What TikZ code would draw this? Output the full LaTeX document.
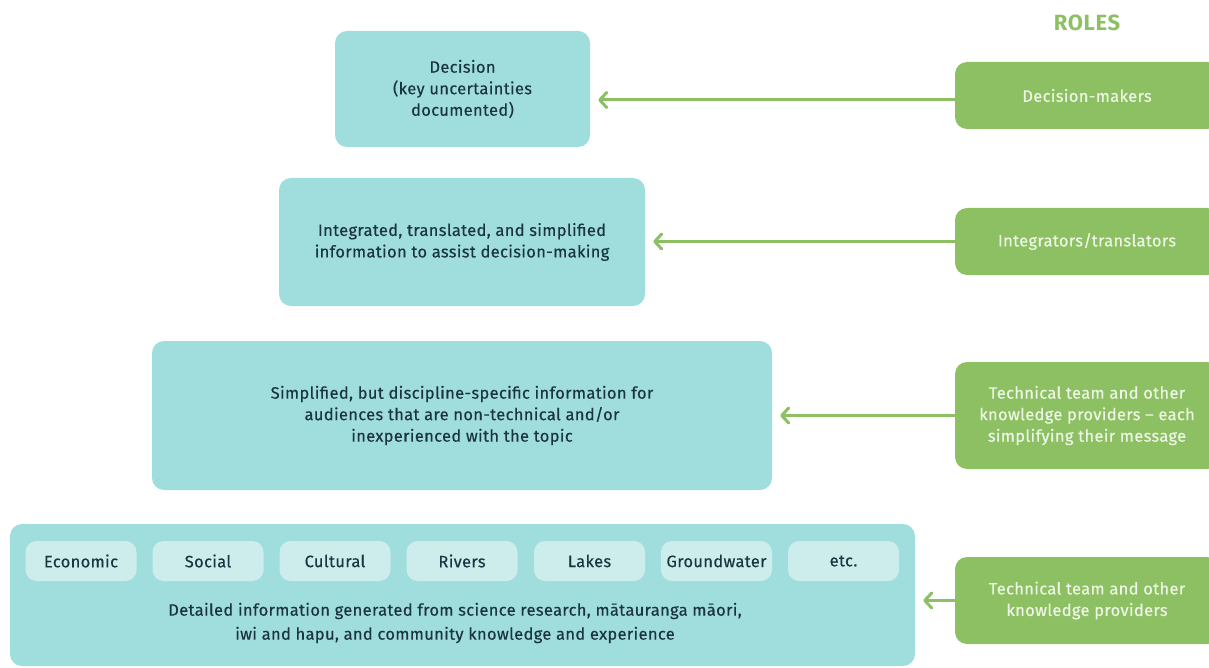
\documentclass[tikz,border=0pt]{standalone}
\usepackage{fontspec}
\setmainfont{Fira Sans}[LetterSpace=2, FakeBold=0.3]
\newfontfamily\rolesfont{Fira Sans}[LetterSpace=3]
\usetikzlibrary{arrows.meta}
\definecolor{teal1}{HTML}{A0DDDD}
\definecolor{teal2}{HTML}{CDEDEC}
\definecolor{grn}{HTML}{8CC063}
\definecolor{grntxt}{HTML}{EEF7E6}
\definecolor{txt}{HTML}{1B3540}
\tikzset{
  tbox/.style={fill=teal1, rounded corners=12pt, inner sep=0pt, align=center, text=txt, font=\fontsize{16.5}{21.5}\selectfont},
  sbox/.style={fill=teal2, rounded corners=11pt, minimum width=111pt, minimum height=40pt, inner sep=0pt, text=txt, font=\fontsize{16.5}{21.5}\selectfont},
  gbox/.style={fill=grn, rounded corners=12pt, minimum width=264pt, inner sep=0pt, align=center, text=grntxt, font=\fontsize{16.5}{21.5}\selectfont},
  arr/.style={draw=grn, line width=3pt, -{Straight Barb[length=7pt,width=15pt,line cap=round,line join=round]}, shorten >=8pt}
}
\begin{document}
\begin{tikzpicture}[x=1pt,y=-1pt]
\useasboundingbox (0,0) rectangle (1209,668);
% teal boxes
\node[tbox, minimum width=255pt, minimum height=116pt] (t1) at (462.5,89) {Decision\\(key uncertainties\\documented)};
\node[tbox, minimum width=366pt, minimum height=128pt] (t2) at (462,242) {Integrated, translated, and simplified\\information to assist decision-making};
\node[tbox, minimum width=620pt, minimum height=149pt] (t3) at (462,415.5) {Simplified, but discipline-specific information for\\audiences that are non-technical and/or\\inexperienced with the topic};
\node[tbox, minimum width=905pt, minimum height=142pt] (t4) at (462.5,595) {};
\node[text=txt, align=center, font=\fontsize{16.5}{24}\selectfont] (t4txt) at (455,623) {Detailed information generated from science research, mātauranga māori,\\iwi and hapu, and community knowledge and experience};
% small boxes
\node[sbox] (s1) at (81,561) {Economic};
\node[sbox] (s2) at (208,561) {Social};
\node[sbox] (s3) at (335,561) {Cultural};
\node[sbox] (s4) at (462,561) {Rivers};
\node[sbox] (s5) at (589.5,561) {Lakes};
\node[sbox] (s6) at (716.5,561) {Groundwater};
\node[sbox] (s7) at (843.5,561) {etc.};
% roles
\node[text=grn, font=\rolesfont\fontsize{22}{24}\selectfont\bfseries] (roles) at (1087,23) {ROLES};
\node[gbox, minimum height=67pt] (g1) at (1087,95.5) {Decision-makers};
\node[gbox, minimum height=67pt] (g2) at (1087,241.5) {Integrators/translators};
\node[gbox, minimum height=107pt] (g3) at (1087,415.5) {Technical team and other\\knowledge providers -- each\\simplifying their message};
\node[gbox, minimum height=87pt] (g4) at (1087,600.5) {Technical team and other\\knowledge providers};
% arrows
\coordinate (a1) at ([yshift=-4.5pt]g1.west);
\draw[arr] (a1) -- (a1 -| t1.east);
\draw[arr] (g2.west) -- (g2.west -| t2.east);
\draw[arr] (g3.west) -- (g3.west -| t3.east);
\draw[arr] (g4.west) -- (g4.west -| t4.east);
\end{tikzpicture}
\end{document}
